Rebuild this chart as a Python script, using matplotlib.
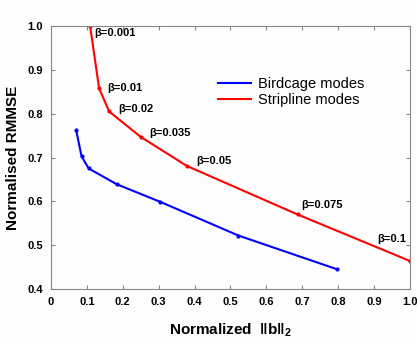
import matplotlib
matplotlib.use("Agg")
import matplotlib.pyplot as plt
from matplotlib.lines import Line2D

plt.rcParams['font.family'] = ['Liberation Sans', 'DejaVu Sans']
plt.rcParams['mathtext.fontset'] = 'custom'
plt.rcParams['mathtext.rm'] = 'Liberation Sans:bold'
plt.rcParams['mathtext.bf'] = 'Liberation Sans:bold'
plt.rcParams['mathtext.it'] = 'Liberation Sans:bold'

birdcage_x = [0.070, 0.085, 0.105, 0.183, 0.304, 0.522, 0.797]
birdcage_y = [0.763, 0.703, 0.675, 0.639, 0.599, 0.522, 0.445]
stripline_x = [0.109, 0.134, 0.162, 0.250, 0.378, 0.687, 1.000]
stripline_y = [1.000, 0.858, 0.805, 0.747, 0.681, 0.570, 0.464]
beta_labels = ["β=0.001", "β=0.01", "β=0.02", "β=0.035", "β=0.05", "β=0.075", "β=0.1"]
label_offsets = [(0.012, -0.017), (0.024, 0.0), (0.024, 0.005), (0.024, 0.008), (0.026, 0.011), (0.011, 0.022), (-0.092, 0.05)]

fig = plt.figure(figsize=(4.17, 3.38), dpi=100, facecolor='#fdfdfd')
ax = fig.add_axes([0.1223, 0.145, 0.8607, 0.778])
ax.set_facecolor('#fdfdfd')

ax.plot(birdcage_x, birdcage_y, color='#0000ff', lw=1.5, marker='.', ms=4)
ax.plot(stripline_x, stripline_y, color='#ff0000', lw=1.5, marker='.', ms=4)

for x, y, t, (dx, dy) in zip(stripline_x, stripline_y, beta_labels, label_offsets):
    ax.text(x + dx, y + dy, t, fontsize=8, fontweight='bold', va='center', ha='left')

ax.set_xlim(0, 1.0)
ax.set_ylim(0.4, 1.0)
ax.set_xticks([i / 10 for i in range(11)])
ax.set_xticklabels(['0', '0.1', '0.2', '0.3', '0.4', '0.5', '0.6', '0.7', '0.8', '0.9', '1.0'])
ax.set_yticks([0.4, 0.5, 0.6, 0.7, 0.8, 0.9, 1.0])
ax.set_yticklabels(['0.4', '0.5', '0.6', '0.7', '0.8', '0.9', '1.0'])
ax.tick_params(direction='in', length=3, top=True, right=True, labelsize=8, color='#888888', pad=6)
for lab in ax.get_xticklabels() + ax.get_yticklabels():
    lab.set_fontweight('bold')
for s in ax.spines.values():
    s.set_color('#888888')
    s.set_linewidth(0.8)

ax.set_ylabel('Normalised RMMSE', fontsize=11, fontweight='bold', labelpad=5)
ax.set_xlabel(r'Normalized  $\Vert\mathbf{b}\Vert_2$', fontsize=11, fontweight='bold', labelpad=10)

handles = [Line2D([], [], color='#0000ff', lw=1.5), Line2D([], [], color='#ff0000', lw=1.5)]
leg = ax.legend(handles, ['Birdcage modes', 'Stripline modes'], loc='upper left',
                bbox_to_anchor=(0.43, 0.855), frameon=False, fontsize=10.5,
                handlelength=2.2, handletextpad=0.5, labelspacing=0.1)

fig.savefig('out.png', dpi=100, facecolor=fig.get_facecolor())
